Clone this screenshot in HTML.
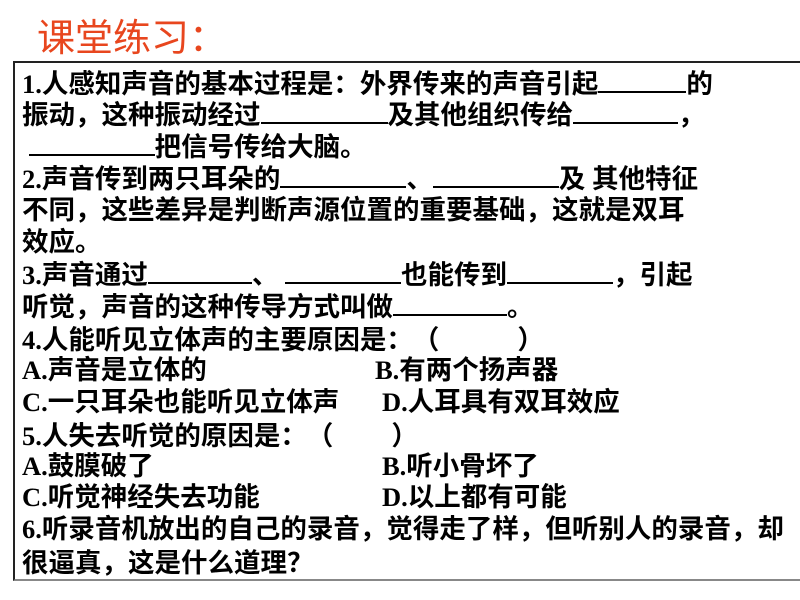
<!DOCTYPE html>
<html><head><meta charset="utf-8"><style>
body{margin:0;width:800px;height:600px;background:#fff;position:relative;overflow:hidden;font-family:"Liberation Serif","Noto Sans CJK SC",sans-serif;}
.t{position:absolute;left:37px;top:7px;font-size:38px;color:#e8461e;font-family:"Liberation Sans","Noto Sans CJK SC",sans-serif;}
.box{position:absolute;left:13px;top:61px;width:800px;height:516px;border:2px solid #222;border-right:none;border-bottom-color:#888;}
.l{position:absolute;left:22px;font-size:26.5px;font-weight:bold;line-height:32px;white-space:nowrap;color:#000;}
.u{display:inline-block;border-bottom:2px solid #000;height:24px;vertical-align:baseline;}
.c{font-family:"Noto Sans CJK SC",sans-serif;display:inline-block;width:1em;}
</style></head><body>
<div class="t">课堂练习<span class="c">：</span></div>
<div class="box"></div>
<div class="l" style="top:66px">1.人感知声音的基本过程是<span class="c">：</span>外界传来的声音引起<span class="u" style="width:88px"></span>的</div>
<div class="l" style="top:98px">振动，这种振动经过<span class="u" style="width:127px"></span>及其他组织传给<span class="u" style="width:105px"></span>，</div>
<div class="l" style="top:130px">&nbsp;<span class="u" style="width:126px"></span>把信号传给大脑。</div>
<div class="l" style="top:162px">2.声音传到两只耳朵的<span class="u" style="width:126px"></span>、<span class="u" style="width:126px"></span>及 其他特征</div>
<div class="l" style="top:194px">不同，这些差异是判断声源位置的重要基础，这就是双耳</div>
<div class="l" style="top:226px">效应。</div>
<div class="l" style="top:258px">3.声音通过<span class="u" style="width:104px"></span>、 <span class="u" style="width:116px"></span>也能传到<span class="u" style="width:106px"></span>，引起</div>
<div class="l" style="top:290px">听觉，声音的这种传导方式叫做<span class="u" style="width:114px"></span>。</div>
<div class="l" style="top:322px">4.人能听见立体声的主要原因是<span class="c">：</span><span class="c">（</span><span style="display:inline-block;width:78px"></span><span class="c">）</span></div>
<div class="l" style="top:354px">A.声音是立体的</div><div class="l" style="top:354px;left:375px">B.有两个扬声器</div>
<div class="l" style="top:386px">C.一只耳朵也能听见立体声</div><div class="l" style="top:386px;left:382px">D.人耳具有双耳效应</div>
<div class="l" style="top:418px">5.人失去听觉的原因是<span class="c">：</span><span class="c">（</span><span style="display:inline-block;width:58px"></span><span class="c">）</span></div>
<div class="l" style="top:450px">A.鼓膜破了</div><div class="l" style="top:450px;left:382px">B.听小骨坏了</div>
<div class="l" style="top:481px">C.听觉神经失去功能</div><div class="l" style="top:481px;left:382px">D.以上都有可能</div>
<div class="l" style="top:513px">6.听录音机放出的自己的录音，觉得走了样，但听别人的录音，却</div>
<div class="l" style="top:545px">很逼真，这是什么道理<span class="c">？</span></div>
</body></html>
